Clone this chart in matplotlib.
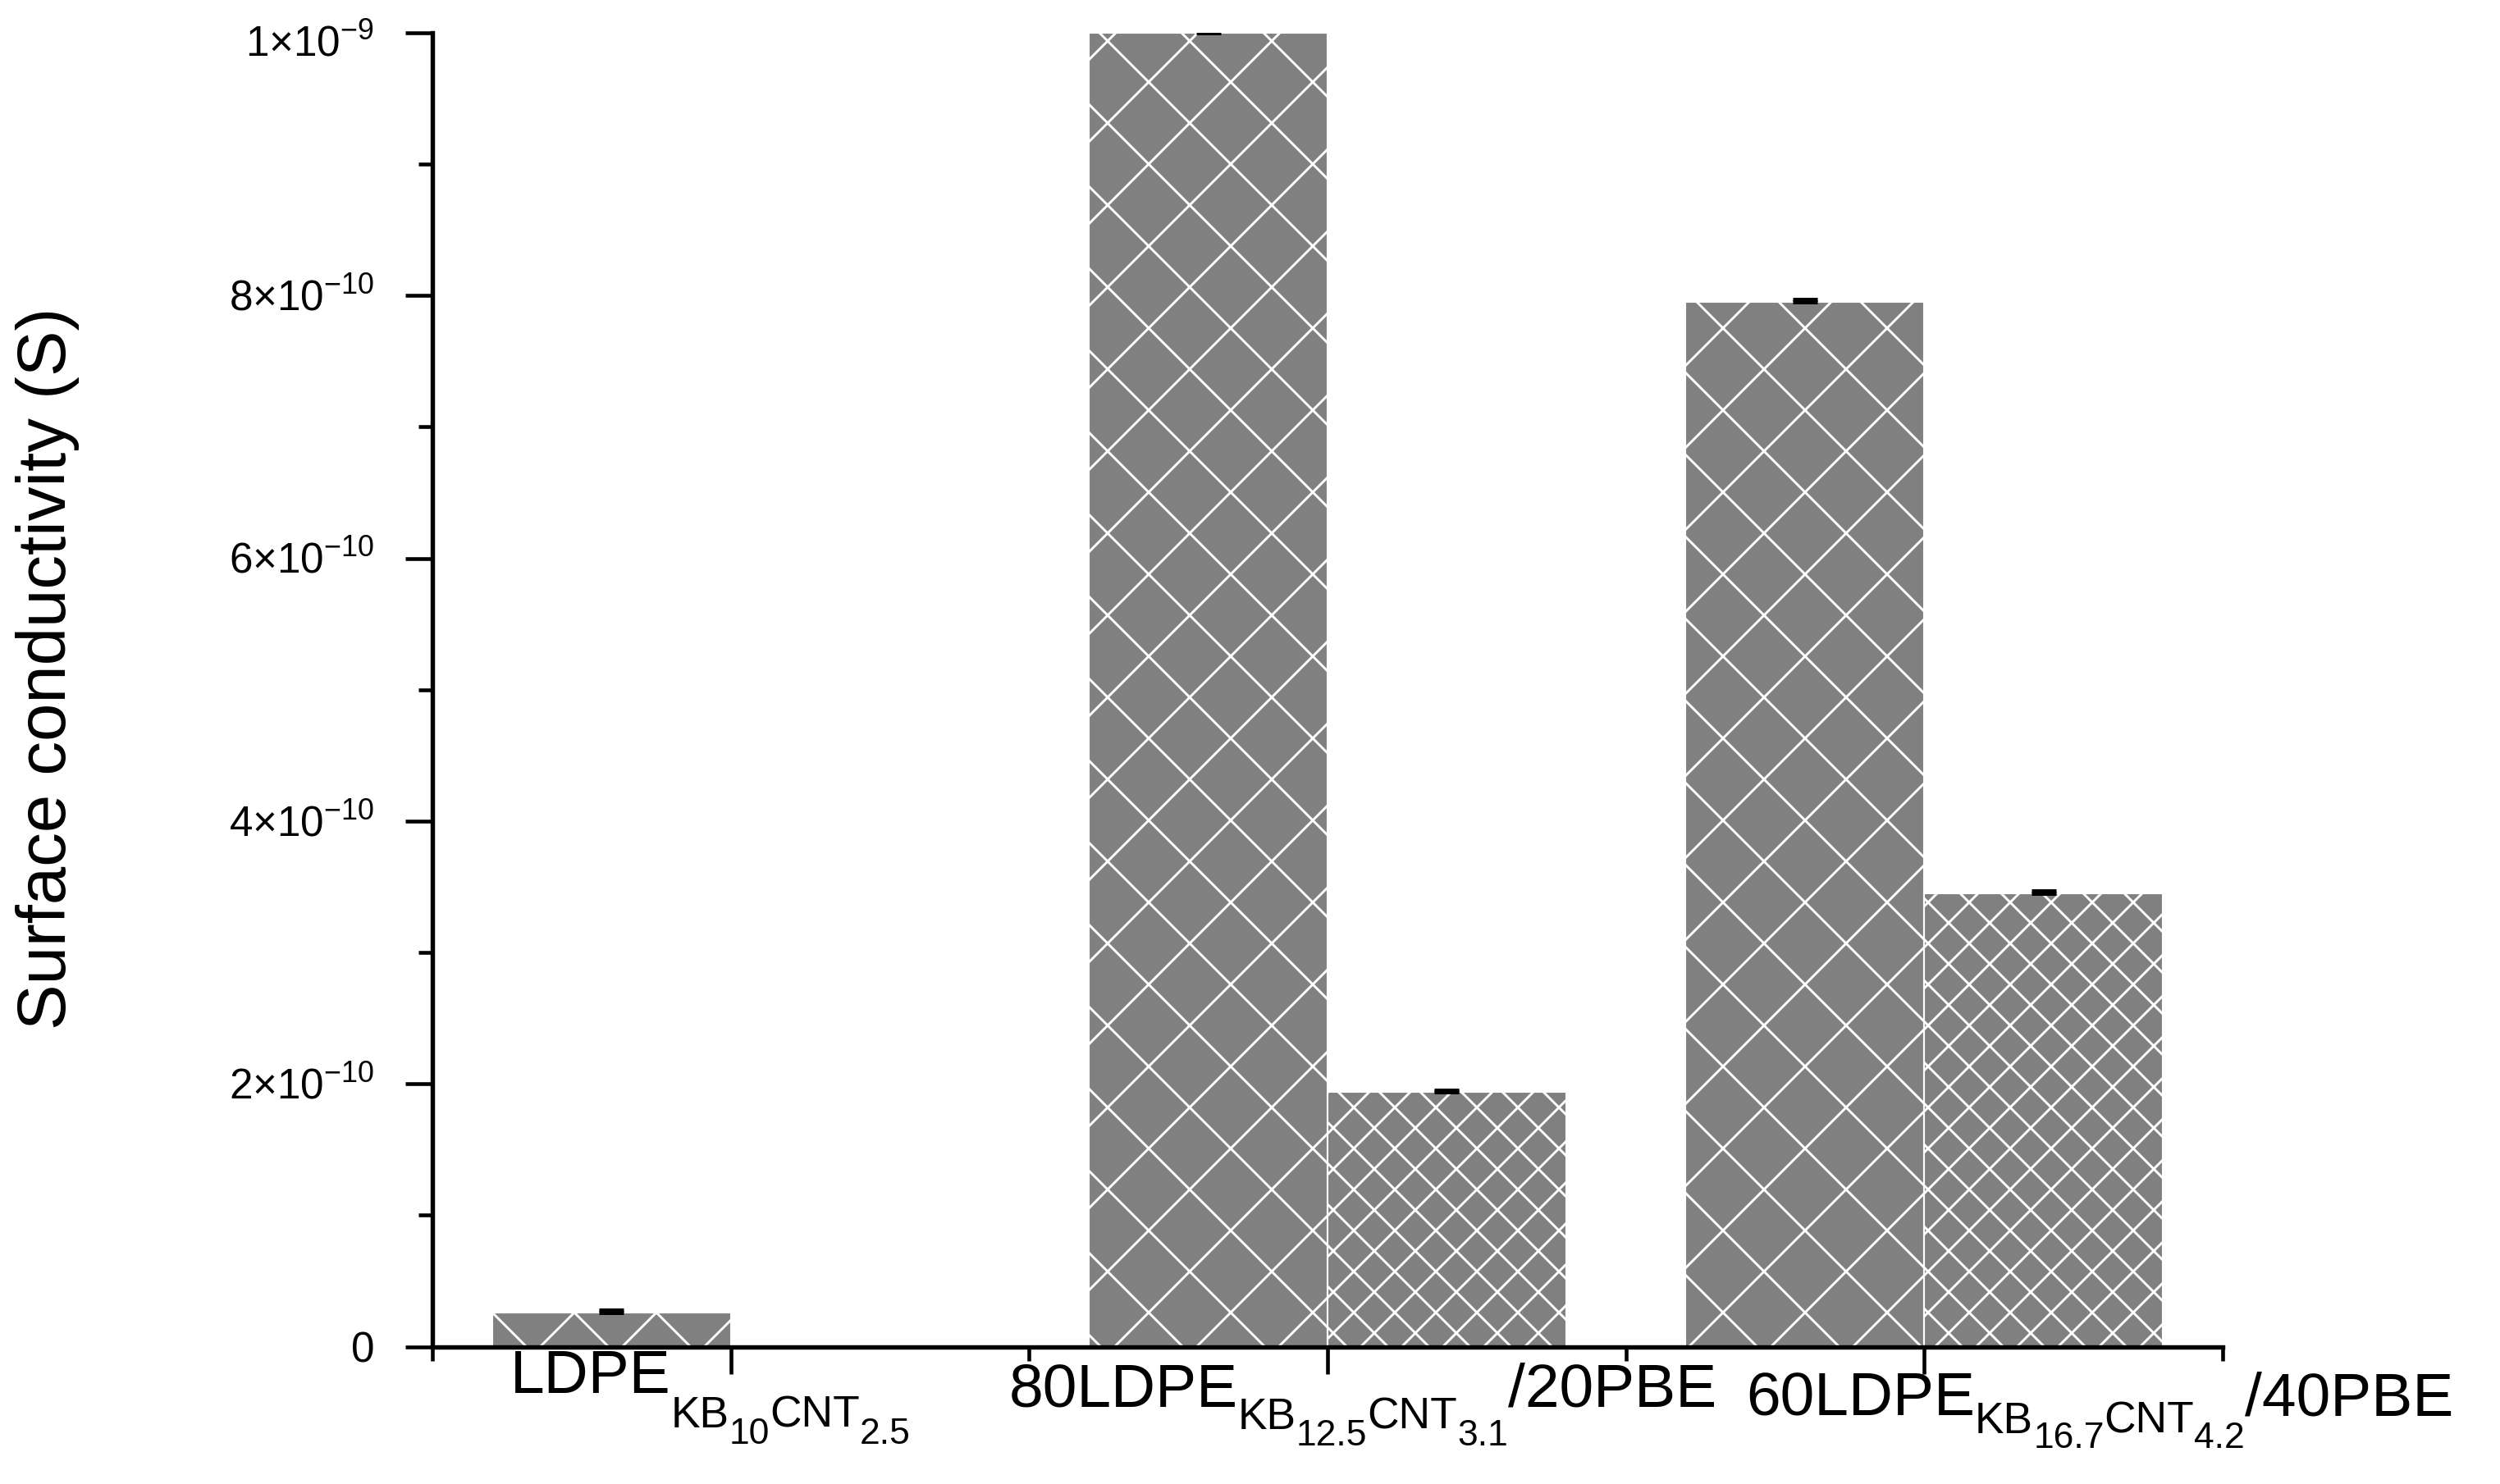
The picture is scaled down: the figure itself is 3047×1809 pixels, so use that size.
import numpy as np
import matplotlib
matplotlib.use('Agg')
import matplotlib.pyplot as plt
from matplotlib import transforms
from matplotlib.ticker import FixedLocator, FuncFormatter

# data
groups = np.array([1, 2, 3])
# tick labels split into (text, level) pieces: 0 = normal, 1 = subscript, 2 = sub-subscript
group_labels = [
    [('LDPE', 0), ('KB', 1), ('10', 2), ('CNT', 1), ('2.5', 2)],
    [('80LDPE', 0), ('KB', 1), ('12.5', 2), ('CNT', 1), ('3.1', 2), ('/20PBE', 0)],
    [('60LDPE', 0), ('KB', 1), ('16.7', 2), ('CNT', 1), ('4.2', 2), ('/40PBE', 0)],
]
cond_a = np.array([2.6e-11, 1.0e-9, 7.95e-10])
cond_b = np.array([np.nan, 1.94e-10, 3.45e-10])
err_a = np.array([2.0e-12, 1.5e-12, 2.0e-12])
err_b = np.array([np.nan, 1.5e-12, 2.0e-12])
y_major = [0, 2e-10, 4e-10, 6e-10, 8e-10, 1e-9]
y_minor = [1e-10, 3e-10, 5e-10, 7e-10, 9e-10]

# label layout (points): centre shift from tick, baseline drop per level
label_dx = [-6.0, 10.3, 51.4]
label_drop = [[13.4, 23.5, 28.3], [17.5, 24.0, 28.8], [20.2, 25.2, 29.5]]
level_size = [18, 12.8, 10.7]

plt.rcParams['font.family'] = ['Liberation Sans', 'DejaVu Sans']
plt.rcParams['mathtext.fontset'] = 'custom'
plt.rcParams['mathtext.rm'] = 'Liberation Sans'
plt.rcParams['mathtext.it'] = 'Liberation Sans:italic'
plt.rcParams['mathtext.bf'] = 'Liberation Sans:bold'
plt.rcParams['hatch.linewidth'] = 0.7
plt.rcParams['hatch.color'] = 'white'


def sci_fmt(v, pos):
    if v <= 1e-20:
        return '0'
    e = int(np.floor(np.log10(v) + 1e-9))
    m = int(round(v / 10**e))
    return r'$%d{\times}10^{%d}$' % (m, e)


fig = plt.figure(figsize=(3047 / 300, 1809 / 300), dpi=300)
ax = fig.add_axes([0.173, 0.0925, 0.716, 0.8855])

w = 0.4
gray = '#808080'
ax.bar(groups - w / 2, cond_a, w, color=gray, edgecolor='white', linewidth=0.5, hatch='x')
ax.bar(groups + w / 2, cond_b, w, color=gray, edgecolor='white', linewidth=0.5, hatch='xx')

m = ~np.isnan(cond_a)
ax.errorbar(groups[m] - w / 2, cond_a[m], yerr=[np.zeros(m.sum()), err_a[m]],
            fmt='none', ecolor='black', elinewidth=1.0, capsize=3.6, capthick=1.2)
m = ~np.isnan(cond_b)
ax.errorbar(groups[m] + w / 2, cond_b[m], yerr=[np.zeros(m.sum()), err_b[m]],
            fmt='none', ecolor='black', elinewidth=1.0, capsize=3.6, capthick=1.2)

ax.set_xlim(0.5, 3.5)
ax.set_ylim(0, 1e-9)

for s in ['top', 'right']:
    ax.spines[s].set_visible(False)
for s in ['left', 'bottom']:
    ax.spines[s].set_linewidth(1.3)

ax.set_xticks(groups)
ax.set_xticklabels([''] * len(groups))
ax.xaxis.set_minor_locator(FixedLocator([0.5, 1.5, 2.5, 3.5]))
ax.yaxis.set_major_locator(FixedLocator(y_major))
ax.yaxis.set_minor_locator(FixedLocator(y_minor))
ax.yaxis.set_major_formatter(FuncFormatter(sci_fmt))

ax.tick_params(which='major', direction='out', length=8.0, width=1.1, labelsize=12.3, pad=9)
ax.tick_params(which='minor', direction='out', length=4.0, width=1.1)

# put the y label digits (not the exponent) on the tick; the top one sits a bit lower
ytop = ax.get_ylim()[1]
for loc, t in zip(ax.yaxis.get_majorticklocs(), ax.yaxis.get_major_ticks()):
    shift = -4.4 if loc < ytop * 0.999 else -6.8
    t.label1.set_verticalalignment('baseline')
    t.label1.set_transform(t.label1.get_transform() +
                           transforms.ScaledTranslation(0, shift / 72, fig.dpi_scale_trans))

# x labels built from pieces so sub/sub-sub levels sit like in the original
renderer = fig.canvas.get_renderer()
for i, pieces in enumerate(group_labels):
    texts, widths = [], []
    for s, lev in pieces:
        t = ax.text(groups[i], 0, s, fontsize=level_size[lev], ha='left', va='baseline')
        texts.append(t)
        widths.append(t.get_window_extent(renderer).width * 72 / fig.dpi)
    cursor = label_dx[i] - sum(widths) / 2
    for t, (s, lev), wd in zip(texts, pieces, widths):
        t.set_transform(transforms.offset_copy(ax.get_xaxis_transform(), fig=fig,
                                               x=cursor, y=-label_drop[i][lev], units='points'))
        cursor += wd

ax.set_ylabel('Surface conductivity (S)', fontsize=20)
ax.yaxis.set_label_coords(-0.197, 0.516)

fig.savefig('out.png', dpi=300)
